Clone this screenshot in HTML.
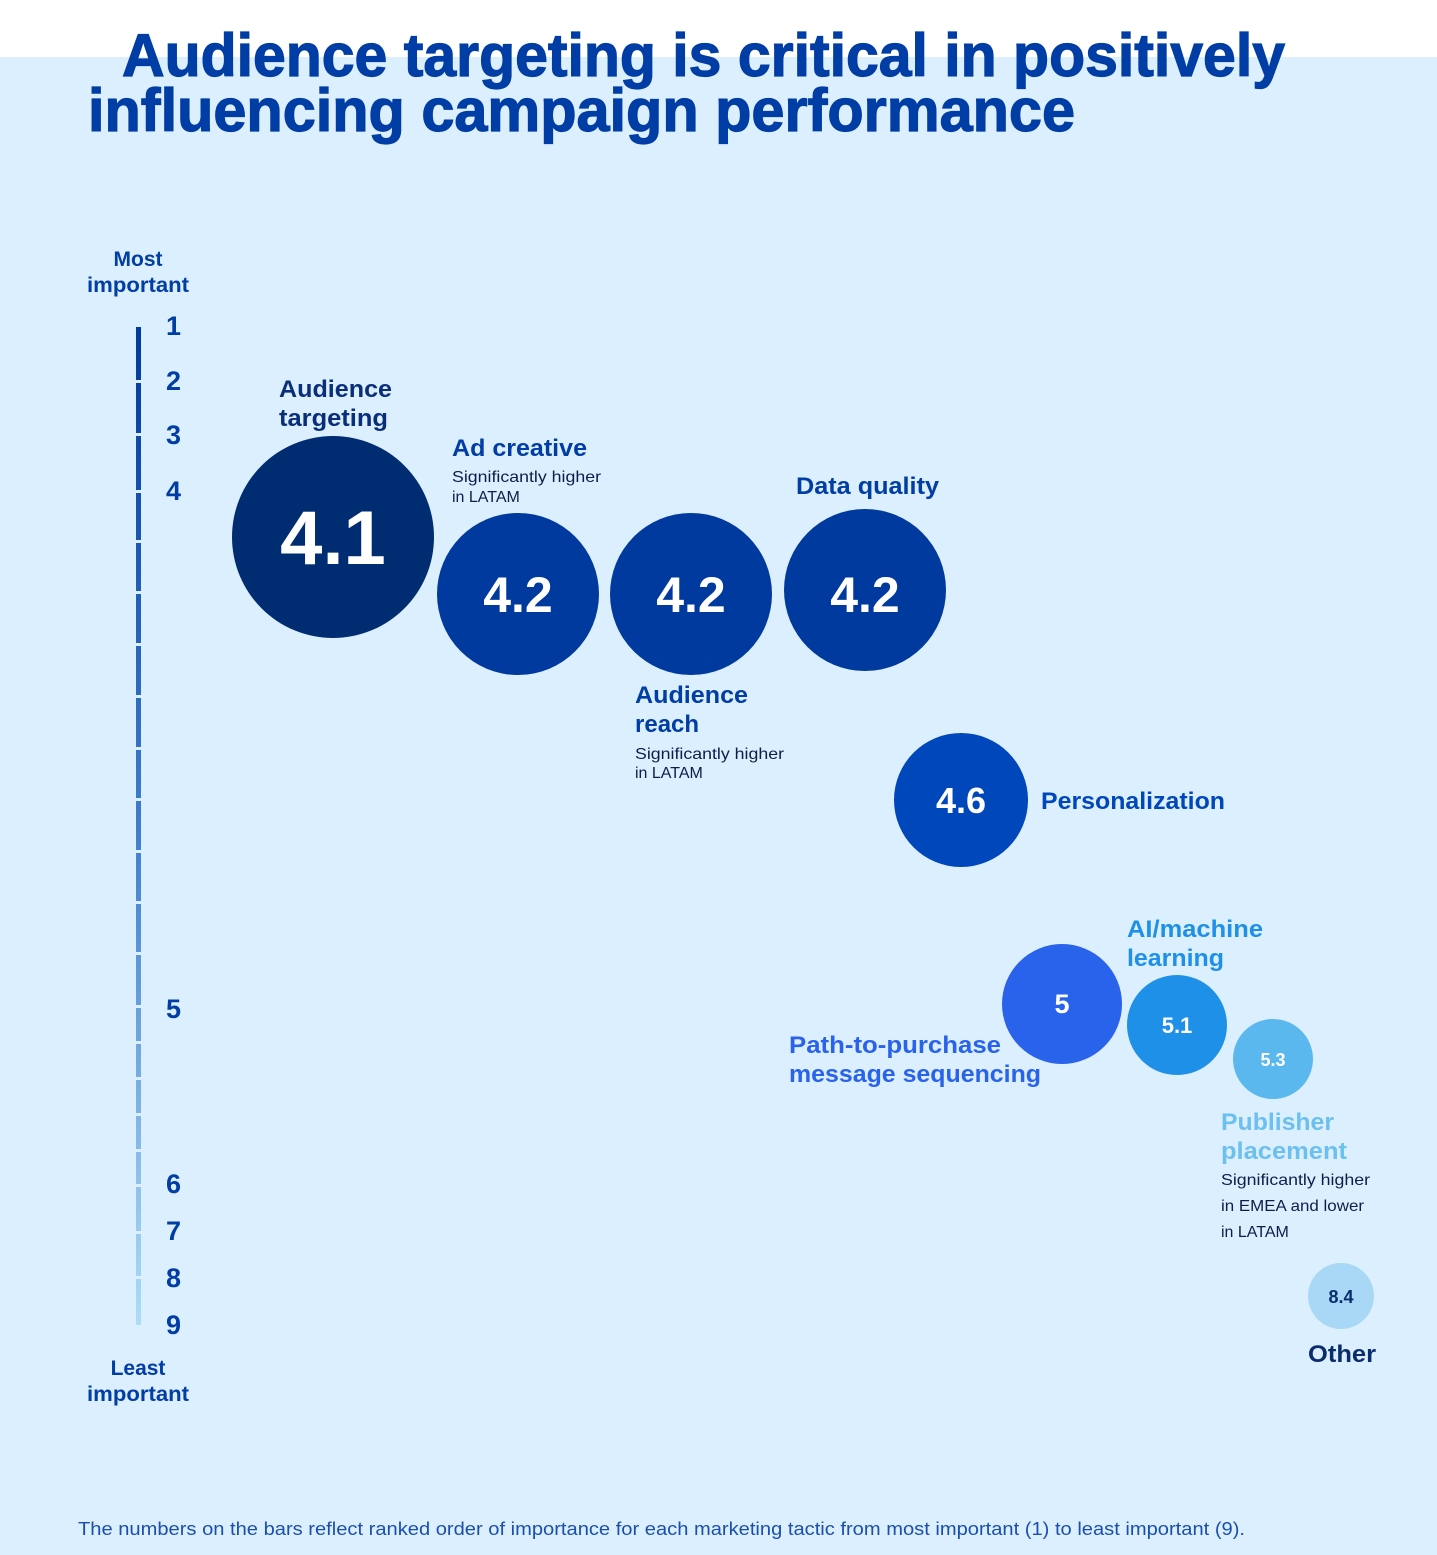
<!DOCTYPE html>
<html><head><meta charset="utf-8"><style>
html,body{margin:0;padding:0;background:#fff;}
svg{display:block;font-family:"Liberation Sans",sans-serif;}
</style></head><body>
<svg width="1437" height="1555" viewBox="0 0 1437 1555" xmlns="http://www.w3.org/2000/svg">
<defs><linearGradient id="ax" x1="0" y1="0" x2="0" y2="1"><stop offset="0" stop-color="#003a9b"/><stop offset="0.5" stop-color="#3f7dcc"/><stop offset="1" stop-color="#aedcf6"/></linearGradient></defs>
<rect x="0" y="0" width="1437" height="1555" fill="#fff"/>
<rect x="0" y="57" width="1437" height="1498" fill="#dcefff"/>
<g font-weight="bold" fill="#003da5" font-size="60" stroke="#003da5" stroke-width="1.2">
<text x="122" y="76" textLength="1163" lengthAdjust="spacingAndGlyphs">Audience targeting is critical in positively</text>
<text x="88" y="131" textLength="987" lengthAdjust="spacingAndGlyphs">influencing campaign performance</text>
</g>
<rect x="136" y="327" width="5" height="998" fill="url(#ax)"/>
<g fill="#dcefff">
<rect x="134" y="380" width="9" height="3"/><rect x="134" y="433" width="9" height="3"/><rect x="134" y="490" width="9" height="3"/><rect x="134" y="540" width="9" height="3"/><rect x="134" y="591" width="9" height="3"/><rect x="134" y="643" width="9" height="3"/><rect x="134" y="695" width="9" height="3"/><rect x="134" y="747" width="9" height="3"/><rect x="134" y="798" width="9" height="3"/><rect x="134" y="850" width="9" height="3"/><rect x="134" y="901" width="9" height="3"/><rect x="134" y="952" width="9" height="3"/><rect x="134" y="1005" width="9" height="3"/><rect x="134" y="1041" width="9" height="3"/><rect x="134" y="1077" width="9" height="3"/><rect x="134" y="1113" width="9" height="3"/><rect x="134" y="1149" width="9" height="3"/><rect x="134" y="1184" width="9" height="3"/><rect x="134" y="1231" width="9" height="3"/><rect x="134" y="1276" width="9" height="3"/>
</g>
<g font-weight="bold" fill="#003da5" font-size="21" text-anchor="middle">
<text x="138" y="266">Most</text><text x="138" y="292" textLength="102" lengthAdjust="spacingAndGlyphs">important</text>
<text x="138" y="1375">Least</text><text x="138" y="1401" textLength="102" lengthAdjust="spacingAndGlyphs">important</text>
</g>
<g font-weight="bold" fill="#003da5" font-size="27">
<text x="166" y="335">1</text><text x="166" y="390">2</text><text x="166" y="444">3</text><text x="166" y="500">4</text>
<text x="166" y="1018">5</text><text x="166" y="1193">6</text><text x="166" y="1240">7</text><text x="166" y="1287">8</text><text x="166" y="1334">9</text>
</g>
<circle cx="333" cy="537" r="101" fill="#002d72"/>
<circle cx="518" cy="594" r="81" fill="#003a9e"/>
<circle cx="691" cy="594" r="81" fill="#003a9e"/>
<circle cx="865" cy="590" r="81" fill="#003a9e"/>
<circle cx="961" cy="800" r="67" fill="#0047bb"/>
<circle cx="1062" cy="1004" r="60" fill="#2962eb"/>
<circle cx="1177" cy="1025" r="50" fill="#1e90e8"/>
<circle cx="1273" cy="1059" r="40" fill="#5ab8ee"/>
<circle cx="1341" cy="1296" r="33" fill="#a8d8f5"/>
<g font-weight="bold" fill="#fff" text-anchor="middle">
<text x="333" y="564" font-size="76">4.1</text>
<text x="518" y="612" font-size="50">4.2</text>
<text x="691" y="612" font-size="50">4.2</text>
<text x="865" y="612" font-size="50">4.2</text>
<text x="961" y="813" font-size="36">4.6</text>
<text x="1062" y="1013" font-size="27">5</text>
<text x="1177" y="1033" font-size="22">5.1</text>
<text x="1273" y="1066" font-size="18">5.3</text>
<text x="1341" y="1303" font-size="18" fill="#0a2d6e">8.4</text>
</g>
<g font-weight="bold" font-size="24">
<text x="279" y="397" fill="#0a2f7a" textLength="113" lengthAdjust="spacingAndGlyphs">Audience</text><text x="279" y="426" fill="#0a2f7a" textLength="109" lengthAdjust="spacingAndGlyphs">targeting</text>
<text x="452" y="456" fill="#003da5" textLength="135" lengthAdjust="spacingAndGlyphs">Ad creative</text>
<text x="796" y="494" fill="#003da5" textLength="143" lengthAdjust="spacingAndGlyphs">Data quality</text>
<text x="635" y="703" fill="#003da5" textLength="113" lengthAdjust="spacingAndGlyphs">Audience</text><text x="635" y="732" fill="#003da5">reach</text>
<text x="1041" y="809" fill="#0047bb" textLength="184" lengthAdjust="spacingAndGlyphs">Personalization</text>
<text x="1127" y="937" fill="#1e90e8" textLength="136" lengthAdjust="spacingAndGlyphs">AI/machine</text><text x="1127" y="966" fill="#1e90e8" textLength="97" lengthAdjust="spacingAndGlyphs">learning</text>
<text x="789" y="1053" fill="#2962eb" textLength="212" lengthAdjust="spacingAndGlyphs">Path-to-purchase</text><text x="789" y="1082" fill="#2962eb" textLength="252" lengthAdjust="spacingAndGlyphs">message sequencing</text>
<text x="1221" y="1130" fill="#6cc0f0" textLength="113" lengthAdjust="spacingAndGlyphs">Publisher</text><text x="1221" y="1159" fill="#6cc0f0" textLength="126" lengthAdjust="spacingAndGlyphs">placement</text>
<text x="1308" y="1362" fill="#0a2d6e" textLength="68" lengthAdjust="spacingAndGlyphs">Other</text>
</g>
<g font-size="16" fill="#0a1f4a">
<text x="452" y="482" textLength="149" lengthAdjust="spacingAndGlyphs">Significantly higher</text><text x="452" y="502">in LATAM</text>
<text x="635" y="759" textLength="149" lengthAdjust="spacingAndGlyphs">Significantly higher</text><text x="635" y="778">in LATAM</text>
<text x="1221" y="1185" textLength="149" lengthAdjust="spacingAndGlyphs">Significantly higher</text><text x="1221" y="1211" textLength="143" lengthAdjust="spacingAndGlyphs">in EMEA and lower</text><text x="1221" y="1237">in LATAM</text>
</g>
<text x="78" y="1535" font-size="18" fill="#1a4fb0" textLength="1167" lengthAdjust="spacingAndGlyphs">The numbers on the bars reflect ranked order of importance for each marketing tactic from most important (1) to least important (9).</text>
</svg>
</body></html>
